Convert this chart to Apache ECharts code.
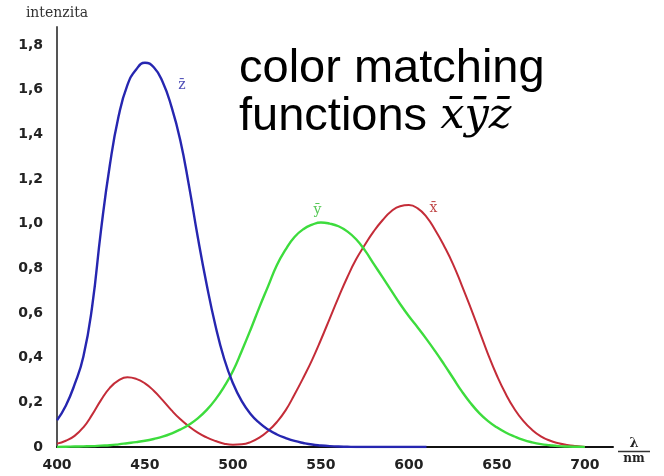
<!DOCTYPE html>
<html>
<head>
<meta charset="utf-8">
<script src="https://cdn.jsdelivr.net/npm/echarts@6/dist/echarts.min.js"></script>
<style>
  html, body { margin: 0; padding: 0; background: #fff; }
  #chart { width: 664px; height: 476px; }
</style>
</head>
<body>
<div id="chart"></div>
<script>
// Wavelengths in nm, 5 nm steps
const wavelengths = [400,405,410,415,420,425,430,435,440,445,450,455,460,465,470,475,480,485,490,495,
  500,505,510,515,520,525,530,535,540,545,550,555,560,565,570,575,580,585,590,595,
  600,605,610,615,620,625,630,635,640,645,650,655,660,665,670,675,680,685,690,695,700];

// x-bar (red)
const xBar = [0.015,0.028,0.05,0.088,0.145,0.21,0.265,0.298,0.312,0.305,0.285,0.252,0.21,0.165,0.125,0.092,0.064,0.043,0.027,0.015,
  0.01,0.012,0.022,0.042,0.072,0.112,0.165,0.235,0.31,0.39,0.48,0.575,0.67,0.76,0.84,0.905,0.965,1.015,1.055,1.078,
  1.083,1.068,1.03,0.97,0.9,0.82,0.725,0.625,0.52,0.415,0.32,0.238,0.17,0.117,0.077,0.048,0.029,0.017,0.009,0.004,0];

// y-bar (green)
const yBar = [0,0.001,0.002,0.003,0.004,0.006,0.008,0.012,0.017,0.022,0.028,0.036,0.046,0.06,0.078,0.1,0.128,0.165,0.212,0.27,
  0.34,0.43,0.525,0.625,0.72,0.815,0.885,0.94,0.975,0.995,1.005,1.0,0.988,0.965,0.93,0.88,0.82,0.76,0.7,0.64,
  0.585,0.535,0.483,0.428,0.37,0.31,0.25,0.197,0.152,0.116,0.088,0.065,0.047,0.032,0.021,0.013,0.008,0.004,0.002,0.001,0];

// z-bar (blue), runs out along the axis to 610 nm
const zBar = [0.12,0.185,0.28,0.405,0.63,0.97,1.26,1.48,1.62,1.69,1.72,1.7,1.635,1.525,1.375,1.17,0.94,0.73,0.545,0.395,
  0.285,0.205,0.148,0.108,0.078,0.056,0.04,0.027,0.018,0.011,0.007,0.004,0.002,0.001,0,0,0,0,0,0,0,0,0];

// Y tick values
const yTicks = [0,0.2,0.4,0.6,0.8,1.0,1.2,1.4,1.6,1.8];
// X tick values
const xTicks = [400,450,500,550,600,650,700];

const pairs = (vals) => vals.map((v, i) => [wavelengths[i], v]);

const chart = echarts.init(document.getElementById('chart'), null, { renderer: 'canvas' });

const curveLabel = (text, coord, color) => ({
  coord: coord,
  symbolSize: 0,
  label: {
    show: true,
    position: 'inside',
    formatter: text,
    fontFamily: 'DejaVu Serif',
    fontSize: 14,
    color: color
  }
});

chart.setOption({
  animation: false,
  backgroundColor: '#fff',
  title: {
    text: 'color matching\nfunctions {m|x\u0304y\u0304z\u0304}',
    left: 234,
    top: 40,
    textStyle: {
      fontFamily: 'Liberation Sans',
      fontSize: 47,
      fontWeight: 'normal',
      color: '#000',
      lineHeight: 48,
      rich: {
        m: {
          fontFamily: 'DejaVu Serif',
          fontStyle: 'italic',
          fontSize: 43,
          color: '#000',
          lineHeight: 48
        }
      }
    }
  },
  grid: { left: 57, right: 51, top: 27, bottom: 29 },
  xAxis: {
    type: 'value',
    min: 400,
    max: 716,
    interval: 50,
    splitLine: { show: false },
    axisTick: { show: false },
    axisLine: { lineStyle: { color: '#111', width: 2 } },
    axisLabel: {
      showMaxLabel: false,
      margin: 11,
      fontFamily: 'DejaVu Sans',
      fontWeight: 'bold',
      fontSize: 14,
      color: '#222',
      formatter: (v) => (xTicks.includes(v) ? String(v) : '')
    },
    name: '{l|\u03bb}\n{r|}\n{n|nm}',
    nameLocation: 'end',
    nameGap: 5,
    nameTextStyle: {
      verticalAlign: 'middle',
      align: 'left',
      padding: [9, 0, 0, 0],
      rich: {
        l: { fontFamily: 'DejaVu Serif', fontWeight: 'bold', fontSize: 13, color: '#222', align: 'center', width: 32, height: 14 },
        r: { width: 32, height: 1.5, backgroundColor: '#333' },
        n: { fontFamily: 'DejaVu Serif', fontWeight: 'bold', fontSize: 12, color: '#222', align: 'center', width: 32, height: 14 }
      }
    }
  },
  yAxis: {
    type: 'value',
    min: 0,
    max: 1.88,
    interval: 0.2,
    splitLine: { show: false },
    axisTick: { show: false },
    axisLine: { show: true, lineStyle: { color: '#555', width: 2 } },
    axisLabel: {
      showMaxLabel: false,
      margin: 14,
      fontFamily: 'DejaVu Sans',
      fontWeight: 'bold',
      fontSize: 14,
      color: '#222',
      formatter: (v) => {
        const t = yTicks.find((k) => Math.abs(k - v) < 1e-6);
        if (t === undefined) return '';
        return t === 0 ? '0' : t.toFixed(1).replace('.', ',');
      }
    },
    name: 'intenzita',
    nameLocation: 'end',
    nameGap: 14,
    nameTextStyle: {
      fontFamily: 'DejaVu Serif',
      fontSize: 14,
      color: '#333',
      align: 'center',
      verticalAlign: 'middle'
    }
  },
  series: [
    {
      name: 'x\u0304',
      type: 'line',
      data: pairs(xBar),
      smooth: 0.5,
      symbol: 'none',
      lineStyle: { color: '#c42c38', width: 2 },
      markPoint: { data: [curveLabel('x\u0304', [614, 1.07], '#c04848')] }
    },
    {
      name: 'y\u0304',
      type: 'line',
      data: pairs(yBar),
      smooth: 0.5,
      symbol: 'none',
      lineStyle: { color: '#3ddc3d', width: 2.4 },
      markPoint: { data: [curveLabel('y\u0304', [548, 1.06], '#55c855')] }
    },
    {
      name: 'z\u0304',
      type: 'line',
      data: pairs(zBar),
      smooth: 0.5,
      symbol: 'none',
      lineStyle: { color: '#2626b0', width: 2.4 },
      markPoint: { data: [curveLabel('z\u0304', [471, 1.62], '#5050b8')] }
    }
  ]
});
</script>
</body>
</html>
